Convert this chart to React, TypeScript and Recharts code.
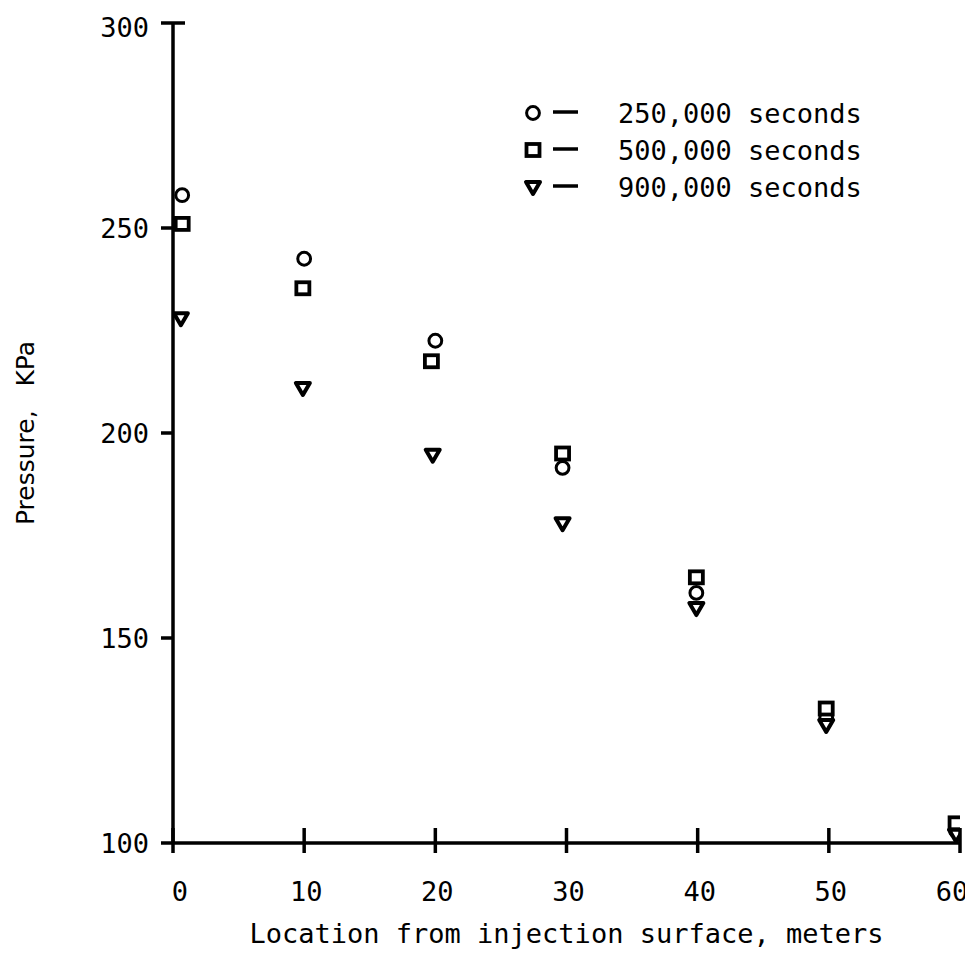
import React from "react";
import { ScatterChart, Scatter, XAxis, YAxis, Legend, Label } from "recharts";

// ---- data ----
const xTicks = [0, 10, 20, 30, 40, 50, 60];
const yTicks = [100, 150, 200, 250, 300];

const x250 = [0.7, 10, 20, 29.7, 39.9, 49.8, 59.7];
const y250 = [258, 242.5, 222.5, 191.5, 161, 130.5, 103];

const x500 = [0.7, 9.9, 19.7, 29.7, 39.9, 49.8, 59.7];
const y500 = [251, 235.3, 217.5, 195, 164.8, 132.8, 104.8];

const x900 = [0.6, 9.9, 19.8, 29.7, 39.9, 49.8, 59.7];
const y900 = [228, 211, 194.7, 178, 157.3, 128.8, 102];

const seriesNames = ["250,000 seconds", "500,000 seconds", "900,000 seconds"];

const toPts = (xs: number[], ys: number[]) => xs.map((x, i) => ({ x, y: ys[i] }));
const d250 = toPts(x250, y250);
const d500 = toPts(x500, y500);
const d900 = toPts(x900, y900);

const MONO = "DejaVu Sans Mono";
const FS = 27;

const CircleMark = (p: any) => (
  <circle cx={p.cx} cy={p.cy} r={6.4} fill="#fff" stroke="#000" strokeWidth={3} />
);
const SquareMark = (p: any) => (
  <rect x={p.cx - 6.5} y={p.cy - 6} width={13} height={12} fill="#fff" stroke="#000" strokeWidth={3.8} />
);
const TriMark = (p: any) => (
  <polygon
    points={`${p.cx - 7},${p.cy - 5} ${p.cx + 7},${p.cy - 5} ${p.cx},${p.cy + 7}`}
    fill="#fff"
    stroke="#000"
    strokeWidth={4}
    strokeLinejoin="round"
  />
);

const xLabelShift = (v: number) => (v === 0 ? 7 : v === 60 ? -8 : 2);

const XTick = (props: any) => {
  const { x, y, payload } = props;
  return (
    <g>
      <line x1={x} x2={x} y1={y - 15} y2={y + 10} stroke="#000" strokeWidth={3.5} />
      <text
        x={x + xLabelShift(payload.value)}
        y={y + 58}
        textAnchor="middle"
        fontFamily={MONO}
        fontSize={FS}
        fill="#000"
      >
        {payload.value}
      </text>
    </g>
  );
};

const YTick = (props: any) => {
  const { x, y, payload } = props;
  return (
    <g>
      <line x1={x - 12} x2={payload.value === 300 ? x + 12 : x} y1={y} y2={y} stroke="#000" strokeWidth={3.5} />
      <text
        x={x - 24}
        y={y + (payload.value === 300 ? 4 : 0)}
        dy="0.36em"
        textAnchor="end"
        fontFamily={MONO}
        fontSize={FS}
        fill="#000"
      >
        {payload.value}
      </text>
    </g>
  );
};

const LegendContent = () => {
  const rows = [23, 60, 97];
  const marks = [CircleMark, SquareMark, TriMark];
  return (
    <svg width={370} height={120} style={{ display: "block" }}>
      {rows.map((ry, i) => {
        const M = marks[i];
        return (
          <g key={i}>
            <M cx={18} cy={ry} />
            <line x1={38} x2={63} y1={ry - 1} y2={ry - 1} stroke="#000" strokeWidth={3.5} />
            <text x={103} y={ry} dy="0.36em" fontFamily={MONO} fontSize={FS} fill="#000">
              {seriesNames[i]}
            </text>
          </g>
        );
      })}
    </svg>
  );
};

export default function App() {
  return (
    <div style={{ background: "#fff", width: 965, overflow: "visible" }}>
      <ScatterChart
        width={965}
        height={950}
        margin={{ top: 15, right: 13, bottom: 0, left: 0 }}
        style={{ overflow: "visible" }}
      >
        <XAxis
          type="number"
          dataKey="x"
          domain={[0, 60]}
          ticks={xTicks}
          interval={0}
          allowDataOverflow
          height={115}
          tickSize={0}
          tickMargin={0}
          tickLine={false}
          axisLine={{ stroke: "#000", strokeWidth: 3.5 }}
          tick={<XTick />}
        >
          <Label
            content={(p: any) => {
              const vb = p.viewBox;
              return (
                <text
                  x={vb.x + vb.width / 2}
                  y={vb.y + 100}
                  textAnchor="middle"
                  fontFamily={MONO}
                  fontSize={FS}
                  fill="#000"
                >
                  Location from injection surface, meters
                </text>
              );
            }}
          />
        </XAxis>
        <YAxis
          type="number"
          dataKey="y"
          domain={[100, 300]}
          ticks={yTicks}
          interval={0}
          allowDataOverflow
          width={165}
          tickSize={0}
          tickMargin={0}
          tickLine={false}
          axisLine={{ stroke: "#000", strokeWidth: 3.5 }}
          tick={<YTick />}
        >
          <Label
            content={(p: any) => {
              const vb = p.viewBox;
              const cy = vb.y + vb.height / 2;
              return (
                <text
                  transform={`translate(17, ${cy}) rotate(-90)`}
                  textAnchor="middle"
                  dominantBaseline="central"
                  fontFamily="DejaVu Sans"
                  fontSize={25}
                  fill="#000"
                  style={{ whiteSpace: "pre" }}
                >
                  {"Pressure,   KPa"}
                </text>
              );
            }}
          />
        </YAxis>
        <Legend
          layout="horizontal"
          verticalAlign="middle"
          align="center"
          wrapperStyle={{ left: 507, top: 82, width: 370 }}
          content={<LegendContent />}
        />
        <Scatter name={seriesNames[0]} data={d250} shape={<CircleMark />} isAnimationActive={false} />
        <Scatter name={seriesNames[1]} data={d500} shape={<SquareMark />} isAnimationActive={false} />
        <Scatter name={seriesNames[2]} data={d900} shape={<TriMark />} isAnimationActive={false} />
      </ScatterChart>
    </div>
  );
}
